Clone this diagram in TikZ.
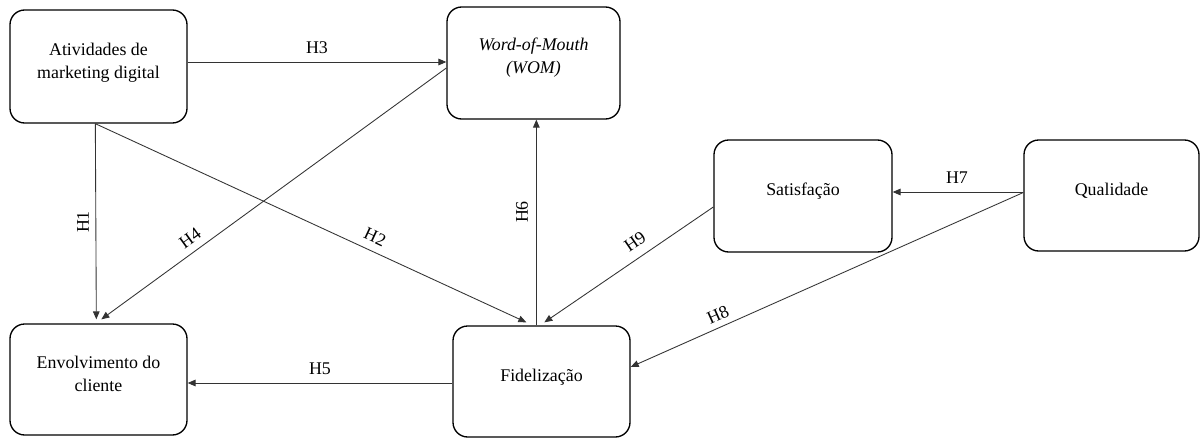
\documentclass[tikz,border=0pt]{standalone}
\usepackage{fontspec}
\setmainfont{Liberation Serif}
\usetikzlibrary{arrows.meta,calc}
\tikzset{
  box/.style={draw=black, line width=1pt, rounded corners=11pt, inner sep=0pt},
  txt/.style={align=center, inner sep=0pt, font=\fontsize{13.4}{17}\selectfont},
  lbl/.style={inner sep=0pt, font=\fontsize{13.4}{17}\selectfont},
  arr/.style={draw=black!80, line width=0.65pt, -{Triangle[length=6pt,width=5pt]}},
  ln/.style={draw=black!80, line width=0.65pt}
}
\begin{document}
\begin{tikzpicture}[x=0.75pt, y=-0.75pt]
\useasboundingbox (0,0) rectangle (1200,439);
% boxes
\node[box, minimum width=132.75pt, minimum height=84.75pt] (A) at (98.5,66.5) {};
\node[box, minimum width=129.75pt, minimum height=84pt] (WOM) at (533.5,63) {};
\node[box, minimum width=132.75pt, minimum height=83.25pt] (Env) at (98.5,379.5) {};
\node[box, minimum width=132.75pt, minimum height=83.25pt] (Fid) at (541.5,381.5) {};
\node[box, minimum width=133.5pt, minimum height=84pt] (Sat) at (803,196) {};
\node[box, minimum width=131.25pt, minimum height=83.25pt] (Qual) at (1111.5,195.5) {};
% texts
\node[txt] (At) at ([yshift=3pt]A.center) {Atividades de\\marketing digital};
\node[txt] (Wt) at ([yshift=4pt]WOM.center) {\textit{Word-of-Mouth}\\\textit{(WOM)}};
\node[txt] (Et) at ([yshift=4pt]Env.center) {Envolvimento do\\cliente};
\node[txt] (Ft) at ([yshift=3.4pt]Fid.center) {Fidelização};
\node[txt] (St) at ([yshift=3.4pt]Sat.center) {Satisfação};
\node[txt] (Qt) at ([yshift=3.4pt]Qual.center) {Qualidade};
% connectors
\draw[arr] ($(A.east)+(0,-4.5)$) -- ($(WOM.west)+(0,-1)$);
\draw[arr] ($(WOM.west)+(0,5)$) -- ($(Env.north west)+(92,-4)$);
\draw[arr] ($(A.south west)+(86,0)$) -- ($(Env.north west)+(87,-4)$);
\draw[arr] ($(A.south west)+(86,0)$) -- ($(Fid.north west)+(74,-3)$);
\draw[arr] ($(Fid.north west)+(84,0)$) -- ($(WOM.south west)+(90,0)$);
\draw[arr] ($(Fid.west)+(0,1.5)$) -- ($(Env.east)+(0,3.5)$);
\draw[arr] ($(Qual.west)+(0,-3.5)$) -- ($(Sat.east)+(0,-4)$);
\draw[arr] ($(Qual.west)+(0,-3)$) -- ($(Fid.east)+(0,-14.5)$);
\draw[arr] ($(Sat.west)+(0,11)$) -- ($(Fid.north west)+(92,-3)$);
% labels
\node[lbl] (H3) at (317,48) {H3};
\node[lbl, rotate=90] (H1) at (83,222) {H1};
\node[lbl, rotate=36] (H4) at (190,238) {H4};
\node[lbl, rotate=-25] (H2) at (375,237) {H2};
\node[lbl, rotate=90] (H6) at (522,212) {H6};
\node[lbl] (H5) at (320,369) {H5};
\node[lbl] (H7) at (957,178) {H7};
\node[lbl, rotate=34.5] (H9) at (635,242) {H9};
\node[lbl, rotate=24] (H8) at (718,315) {H8};
\end{tikzpicture}
\end{document}
